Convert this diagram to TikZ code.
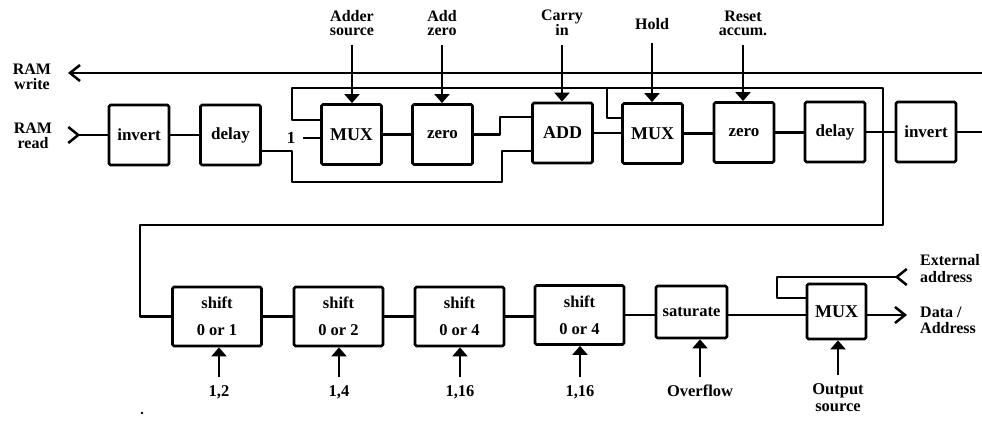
\documentclass[tikz,border=0pt]{standalone}
\usepackage{fontspec}
\setmainfont{Liberation Serif}
\usetikzlibrary{arrows.meta}
\begin{document}
\begin{tikzpicture}[x=1pt,y=-1pt,line join=round,
  blk/.style={draw,line width=2.8pt,rounded corners=1.5pt,minimum width=60pt,minimum height=60pt,inner sep=0pt,font=\bfseries\fontsize{17}{17}\selectfont},
  sblk/.style={blk,minimum width=89pt,minimum height=59pt,align=center,font=\bfseries\fontsize{16.5}{27}\selectfont},
  lab/.style={inner sep=0pt,align=center,font=\bfseries\fontsize{16}{14.5}\selectfont},
  blab/.style={lab,anchor=north,font=\bfseries\fontsize{16.5}{17}\selectfont},
  wire/.style={line width=2.5pt},
  ctl/.style={wire,-{Triangle[length=9pt,width=15pt]}},
  io/.style={wire,-{Straight Barb[length=10pt,width=16pt]}},
  rio/.style={wire,{Straight Barb[reversed,length=10pt,width=16pt]}-},
]
\useasboundingbox (0,0) rectangle (982,422);

% top row
\node[blk] (inv1) at (139,135) {invert};
\node[blk] (del1) at (230.5,135) {delay};
\node[blk,font=\bfseries\fontsize{18}{18}\selectfont] (mux1) at (351.5,134.5) {MUX};
\node[blk] (zer1) at (442.5,134.5) {zero};
\node[blk,font=\bfseries\fontsize{18}{18}\selectfont] (add)  at (562.5,133) {ADD};
\node[blk,font=\bfseries\fontsize{18}{18}\selectfont] (mux2) at (652.5,133.5) {MUX};
\node[blk] (zer2) at (744,132.5) {zero};
\node[blk] (del2) at (835,132) {delay};
\node[blk] (inv2) at (926,132) {invert};

% bottom row
\node[sblk] (sh1) at (217,316.5) {shift\\0 or 1};
\node[sblk] (sh2) at (338.5,316.5) {shift\\0 or 2};
\node[sblk] (sh3) at (459.5,316.5) {shift\\0 or 4};
\node[sblk] (sh4) at (579.5,315) {shift\\0 or 4};
\node[blk,minimum width=71pt,minimum height=52pt,font=\bfseries\fontsize{16.5}{16.5}\selectfont] (sat) at (691.5,312) {saturate};
\node[blk,minimum width=59pt,minimum height=55pt,font=\bfseries\fontsize{18}{18}\selectfont] (mux3) at (836.5,311.5) {MUX};

% side labels
\node[lab] (ramw) at (32,77) {RAM\\write};
\node[lab] (ramr) at (33,136) {RAM\\read};
\node[lab,font=\bfseries\fontsize{17}{17}\selectfont] (one) at (291,138) {1};
\node[lab,anchor=west,align=left,font=\bfseries\fontsize{16}{17}\selectfont] (ext) at (920,269) {External\\address};
\node[lab,anchor=west,align=left,font=\bfseries\fontsize{16}{16}\selectfont] (dat) at (920,320) {Data /\\Address};

% top control labels
\node[lab,anchor=south] (adsrc) at (352,36) {Adder\\source};
\node[lab,anchor=south] (adz)   at (442,36) {Add\\zero};
\node[lab,anchor=south] (cin)   at (562,36) {Carry\\in};
\node[lab,anchor=south] (hold)  at (652,30) {Hold};
\node[lab,anchor=south] (rst)   at (743,36) {Reset\\accum.};

% bottom control labels
\node[blab] (c1) at (219,385) {1,2};
\node[blab] (c2) at (339,385) {1,4};
\node[blab] (c3) at (460,385) {1,16};
\node[blab] (c4) at (580,385) {1,16};
\node[blab] (ovf) at (700,385) {Overflow};
\node[blab] (osrc) at (838,383) {Output\\source};

% coordinates for free ends
\coordinate (rr) at (67,135);
\coordinate (rwR) at (982,73);
\coordinate (rwL) at (68,73);
\coordinate (outR) at (982,132);
\coordinate (j) at (883,132);
\coordinate (j2) at (607,88);
\coordinate (ea) at (908,277);
\coordinate (da) at (907,315);

% RAM read / write
\draw[rio] (rr) -- (inv1);
\draw[io] (rwR) -- (rwL);

% top data path
\draw[wire] (inv1) -- (del1);
\draw[wire] ([yshift=-16pt]del1.east) -- (292,151) -- (292,182) -- (502,182) -- (502,151) -- ([yshift=-18pt]add.west);
\draw[wire,shorten <=8pt] (one.east) -- (one.east -| mux1.west);
\draw[wire] (mux1) -- (zer1);
\draw[wire] (zer1.east) -- (500,134.5) -- (500,117) -- ([yshift=16pt]add.west);
\draw[wire] (add.east) -- (add.east -| mux2.west);
\draw[wire] (mux2.east) -- (mux2.east -| zer2.west);
\draw[wire] (zer2.east) -- (zer2.east -| del2.west);
\draw[wire] (del2) -- (inv2);
\draw[wire] (inv2) -- (outR);

% feedback loops
\draw[wire] (j) -- (883,88) -- (292,88) -- (292,120) -- ([yshift=14.5pt]mux1.west);
\draw[wire] (j2) -- (607,118) -- ([yshift=15.5pt]mux2.west);
\draw[wire] (j) -- (883,225) -- (140,225) -- (140,316.5) -- (sh1.west);

% bottom data path
\draw[wire] (sh1) -- (sh2);
\draw[wire] (sh2) -- (sh3);
\draw[wire] (sh3.east) -- (sh3.east -| sh4.west);
\draw[wire] (sh4.east) -- (sh4.east -| sat.west);
\draw[wire] (sh4.east -| sat.east) -- (sh4.east -| mux3.west);
\draw[io] ([yshift=-3.5pt]mux3.east) -- (da);
\draw[rio] (ea) -- (777,277) -- (777,298) -- ([yshift=13.5pt]mux3.west);

% control arrows
\draw[ctl,shorten <=9pt] (adsrc.south) -- (adsrc.south |- mux1.north);
\draw[ctl,shorten <=9pt] (adz.south) -- (adz.south |- zer1.north);
\draw[ctl,shorten <=9pt] (cin.south) -- (cin.south |- add.north);
\draw[ctl,shorten <=13pt] (hold.south) -- (hold.south |- mux2.north);
\draw[ctl,shorten <=9pt] (rst.south) -- (rst.south |- zer2.north);

\draw[ctl,shorten <=8pt] (c1.north) -- (c1.north |- sh1.south);
\draw[ctl,shorten <=8pt] (c2.north) -- (c2.north |- sh2.south);
\draw[ctl,shorten <=8pt] (c3.north) -- (c3.north |- sh3.south);
\draw[ctl,shorten <=8pt] (c4.north) -- (c4.north |- sh4.south);
\draw[ctl,shorten <=8pt] (ovf.north) -- (ovf.north |- sat.south);
\draw[ctl,shorten <=8pt] (osrc.north) -- (osrc.north |- mux3.south);

\fill (142,413) circle (1.3pt);
\end{tikzpicture}
\end{document}
